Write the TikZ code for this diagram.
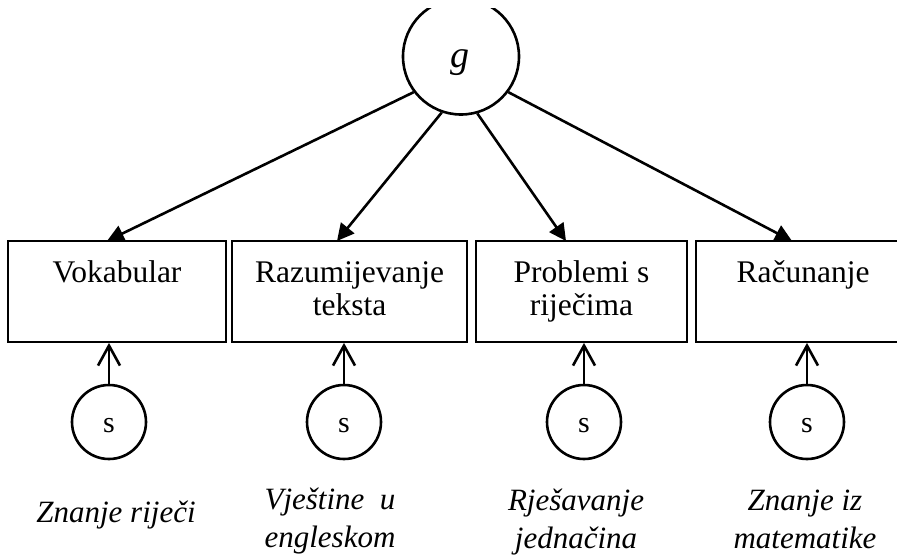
\documentclass[tikz,border=0pt]{standalone}
\usepackage{fontspec}
\setmainfont{Liberation Serif}
\usetikzlibrary{arrows.meta,calc}
\begin{document}
\begin{tikzpicture}[x=1pt,y=-1pt,
 box/.style={draw,line width=1.8pt,rectangle,inner sep=0pt,minimum height=101pt},
 lat/.style={draw,circle,line width=2.6pt,inner sep=0pt},
 txt/.style={font=\fontsize{31.5}{33}\selectfont,align=center,inner sep=0pt},
 itx/.style={font=\fontsize{31}{38}\selectfont\itshape,align=center,inner sep=0pt},
 load/.style={line width=2.6pt,-{Triangle[length=17pt,width=17pt]}},
 err/.style={line width=2.6pt,-{Straight Barb[length=20pt,width=22pt]}}]
\useasboundingbox (0,0) rectangle (897,557);
\clip (0,8.5) rectangle (897,557);
% boxes
\node[box,minimum width=218pt] (b1) at (117,291.5) {};
\node[box,minimum width=235pt] (b2) at (349.5,291.5) {};
\node[box,minimum width=211pt] (b3) at (581.5,291.5) {};
\node[box,minimum width=214pt] (b4) at (803,291.5) {};
\node[txt,anchor=base] (t1) at (117,282) {Vokabular};
\node[txt,anchor=base] (t2) at (349.5,315) {Razumijevanje\\teksta};
\node[txt,anchor=base] (t3) at (581.5,315) {Problemi s\\riječima};
\node[txt,anchor=base] (t4) at (803,282) {Računanje};
% latent g
\node[lat,minimum size=116pt] (g) at (461,56.5) {};
\node[font=\fontsize{38}{38}\selectfont\itshape,anchor=base,inner sep=0pt] (gl) at (460,67) {g};
% error circles
\node[lat,minimum size=74pt] (s1) at (109,422) {};
\node[lat,minimum size=74pt] (s2) at (344,422) {};
\node[lat,minimum size=74pt] (s3) at (584,422) {};
\node[lat,minimum size=74pt] (s4) at (807,422) {};
\tikzset{slbl/.style={font=\fontsize{30}{30}\selectfont,anchor=base,inner sep=0pt}}
\node[slbl] (sl1) at ($(s1.center)+(0,10)$) {s};
\node[slbl] (sl2) at ($(s2.center)+(0,10)$) {s};
\node[slbl] (sl3) at ($(s3.center)+(0,10)$) {s};
\node[slbl] (sl4) at ($(s4.center)+(0,10)$) {s};
% bottom labels
\node[itx,anchor=base] (l1) at (116,522) {Znanje riječi};
\node[itx,anchor=base] (l2) at (330,547) {Vještine\ \ u\\engleskom};
\node[itx,anchor=base] (l3) at (576,548) {Rješavanje\\jednačina};
\node[itx,anchor=base] (l4) at (805,548) {Znanje iz\\matematike};
% arrow tips
\coordinate (p1) at (107,241);
\coordinate (p2) at (337,241);
\coordinate (p3) at (566,241);
\coordinate (p4) at (792,241);
\draw[load] (g.217) -- (p1);
\draw[load] (g.251) -- (p2);
\draw[load] (g.286) -- (p3);
\draw[load] (g.323) -- (p4);
% error arrows
\draw[err] (s1.north) -- (s1.north |- b1.south);
\draw[err] (s2.north) -- (s2.north |- b2.south);
\draw[err] (s3.north) -- (s3.north |- b3.south);
\draw[err] (s4.north) -- (s4.north |- b4.south);
\end{tikzpicture}
\end{document}
